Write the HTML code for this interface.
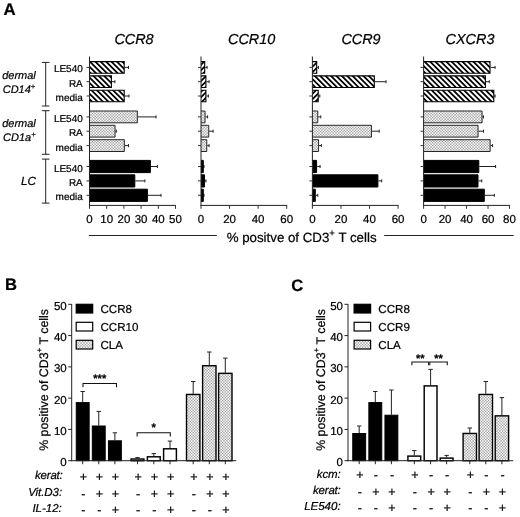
<!DOCTYPE html>
<html><head><meta charset="utf-8"><title>Figure</title>
<style>html,body{margin:0;padding:0;background:#fff;overflow:hidden;}svg{display:block;}</style>
</head><body>
<svg width="520" height="517" viewBox="0 0 520 517" font-family='"Liberation Sans", sans-serif' fill="#000" text-rendering="geometricPrecision"><style>text{stroke:#000;stroke-width:0.22px;}</style>
<defs>
<pattern id="hat" width="27.0" height="27.0" patternUnits="userSpaceOnUse">
<rect width="27.0" height="27.0" fill="#fff"/><path d="M-27.00,0h2.5l27.00,27.00h-2.5zM-21.60,0h2.5l27.00,27.00h-2.5zM-16.20,0h2.5l27.00,27.00h-2.5zM-10.80,0h2.5l27.00,27.00h-2.5zM-5.40,0h2.5l27.00,27.00h-2.5zM0.00,0h2.5l27.00,27.00h-2.5zM5.40,0h2.5l27.00,27.00h-2.5zM10.80,0h2.5l27.00,27.00h-2.5zM16.20,0h2.5l27.00,27.00h-2.5zM21.60,0h2.5l27.00,27.00h-2.5zM27.00,0h2.5l27.00,27.00h-2.5z" fill="#000"/></pattern>
<pattern id="hat2" width="27.0" height="27.0" patternUnits="userSpaceOnUse">
<rect width="27.0" height="27.0" fill="#fff"/><path d="M-27.00,27.00h2.5l27.00,-27.00h-2.5zM-21.60,27.00h2.5l27.00,-27.00h-2.5zM-16.20,27.00h2.5l27.00,-27.00h-2.5zM-10.80,27.00h2.5l27.00,-27.00h-2.5zM-5.40,27.00h2.5l27.00,-27.00h-2.5zM0.00,27.00h2.5l27.00,-27.00h-2.5zM5.40,27.00h2.5l27.00,-27.00h-2.5zM10.80,27.00h2.5l27.00,-27.00h-2.5zM16.20,27.00h2.5l27.00,-27.00h-2.5zM21.60,27.00h2.5l27.00,-27.00h-2.5zM27.00,27.00h2.5l27.00,-27.00h-2.5z" fill="#000"/></pattern>
<pattern id="dot" width="14.0" height="14.0" patternUnits="userSpaceOnUse">
<rect width="14.0" height="14.0" fill="#909090"/><g fill="#fff"><circle cx="0.00" cy="0.00" r="0.9"/><circle cx="0.00" cy="2.80" r="0.9"/><circle cx="0.00" cy="5.60" r="0.9"/><circle cx="0.00" cy="8.40" r="0.9"/><circle cx="0.00" cy="11.20" r="0.9"/><circle cx="0.00" cy="14.00" r="0.9"/><circle cx="2.80" cy="0.00" r="0.9"/><circle cx="2.80" cy="2.80" r="0.9"/><circle cx="2.80" cy="5.60" r="0.9"/><circle cx="2.80" cy="8.40" r="0.9"/><circle cx="2.80" cy="11.20" r="0.9"/><circle cx="2.80" cy="14.00" r="0.9"/><circle cx="5.60" cy="0.00" r="0.9"/><circle cx="5.60" cy="2.80" r="0.9"/><circle cx="5.60" cy="5.60" r="0.9"/><circle cx="5.60" cy="8.40" r="0.9"/><circle cx="5.60" cy="11.20" r="0.9"/><circle cx="5.60" cy="14.00" r="0.9"/><circle cx="8.40" cy="0.00" r="0.9"/><circle cx="8.40" cy="2.80" r="0.9"/><circle cx="8.40" cy="5.60" r="0.9"/><circle cx="8.40" cy="8.40" r="0.9"/><circle cx="8.40" cy="11.20" r="0.9"/><circle cx="8.40" cy="14.00" r="0.9"/><circle cx="11.20" cy="0.00" r="0.9"/><circle cx="11.20" cy="2.80" r="0.9"/><circle cx="11.20" cy="5.60" r="0.9"/><circle cx="11.20" cy="8.40" r="0.9"/><circle cx="11.20" cy="11.20" r="0.9"/><circle cx="11.20" cy="14.00" r="0.9"/><circle cx="14.00" cy="0.00" r="0.9"/><circle cx="14.00" cy="2.80" r="0.9"/><circle cx="14.00" cy="5.60" r="0.9"/><circle cx="14.00" cy="8.40" r="0.9"/><circle cx="14.00" cy="11.20" r="0.9"/><circle cx="14.00" cy="14.00" r="0.9"/><circle cx="1.40" cy="1.40" r="0.9"/><circle cx="1.40" cy="4.20" r="0.9"/><circle cx="1.40" cy="7.00" r="0.9"/><circle cx="1.40" cy="9.80" r="0.9"/><circle cx="1.40" cy="12.60" r="0.9"/><circle cx="4.20" cy="1.40" r="0.9"/><circle cx="4.20" cy="4.20" r="0.9"/><circle cx="4.20" cy="7.00" r="0.9"/><circle cx="4.20" cy="9.80" r="0.9"/><circle cx="4.20" cy="12.60" r="0.9"/><circle cx="7.00" cy="1.40" r="0.9"/><circle cx="7.00" cy="4.20" r="0.9"/><circle cx="7.00" cy="7.00" r="0.9"/><circle cx="7.00" cy="9.80" r="0.9"/><circle cx="7.00" cy="12.60" r="0.9"/><circle cx="9.80" cy="1.40" r="0.9"/><circle cx="9.80" cy="4.20" r="0.9"/><circle cx="9.80" cy="7.00" r="0.9"/><circle cx="9.80" cy="9.80" r="0.9"/><circle cx="9.80" cy="12.60" r="0.9"/><circle cx="12.60" cy="1.40" r="0.9"/><circle cx="12.60" cy="4.20" r="0.9"/><circle cx="12.60" cy="7.00" r="0.9"/><circle cx="12.60" cy="9.80" r="0.9"/><circle cx="12.60" cy="12.60" r="0.9"/></g></pattern>
</defs>
<rect width="520" height="517" fill="#fff"/>
<text x="3.50" y="14.60" font-size="16.8" text-anchor="start" font-weight="bold">A</text>
<text x="134.00" y="43.60" font-size="14.4" text-anchor="middle" font-style="italic">CCR8</text>
<line x1="124.80" y1="67.40" x2="128.50" y2="67.40" stroke="#222" stroke-width="1"/>
<line x1="128.50" y1="65.90" x2="128.50" y2="68.90" stroke="#222" stroke-width="1"/>
<rect x="89.50" y="61.60" width="34.70" height="11.60" fill="url(#hat)"/>
<path d="M89.50,61.60H124.20V73.20H89.50" fill="none" stroke="#000" stroke-width="1.1"/>
<line x1="112.00" y1="81.70" x2="114.90" y2="81.70" stroke="#222" stroke-width="1"/>
<line x1="114.90" y1="80.20" x2="114.90" y2="83.20" stroke="#222" stroke-width="1"/>
<rect x="89.50" y="75.90" width="21.90" height="11.60" fill="url(#hat)"/>
<path d="M89.50,75.90H111.40V87.50H89.50" fill="none" stroke="#000" stroke-width="1.1"/>
<line x1="124.80" y1="96.00" x2="129.00" y2="96.00" stroke="#222" stroke-width="1"/>
<line x1="129.00" y1="94.50" x2="129.00" y2="97.50" stroke="#222" stroke-width="1"/>
<rect x="89.50" y="90.20" width="34.70" height="11.60" fill="url(#hat)"/>
<path d="M89.50,90.20H124.20V101.80H89.50" fill="none" stroke="#000" stroke-width="1.1"/>
<line x1="137.80" y1="116.90" x2="156.00" y2="116.90" stroke="#222" stroke-width="1"/>
<line x1="156.00" y1="115.40" x2="156.00" y2="118.40" stroke="#222" stroke-width="1"/>
<rect x="89.50" y="111.00" width="47.85" height="11.80" fill="url(#dot)"/>
<path d="M89.50,111.00H137.35V122.80H89.50" fill="none" stroke="#111" stroke-width="0.9"/>
<line x1="115.50" y1="131.20" x2="116.30" y2="131.20" stroke="#222" stroke-width="1"/>
<line x1="116.30" y1="129.70" x2="116.30" y2="132.70" stroke="#222" stroke-width="1"/>
<rect x="89.50" y="125.30" width="25.55" height="11.80" fill="url(#dot)"/>
<path d="M89.50,125.30H115.05V137.10H89.50" fill="none" stroke="#111" stroke-width="0.9"/>
<line x1="124.80" y1="145.60" x2="128.50" y2="145.60" stroke="#222" stroke-width="1"/>
<line x1="128.50" y1="144.10" x2="128.50" y2="147.10" stroke="#222" stroke-width="1"/>
<rect x="89.50" y="139.70" width="34.85" height="11.80" fill="url(#dot)"/>
<path d="M89.50,139.70H124.35V151.50H89.50" fill="none" stroke="#111" stroke-width="0.9"/>
<line x1="150.90" y1="166.50" x2="157.40" y2="166.50" stroke="#222" stroke-width="1"/>
<line x1="157.40" y1="165.00" x2="157.40" y2="168.00" stroke="#222" stroke-width="1"/>
<rect x="89.50" y="160.40" width="60.90" height="12.20" fill="#000"/>
<path d="M89.50,160.40H150.40V172.60H89.50" fill="none" stroke="#000" stroke-width="1"/>
<line x1="135.30" y1="180.90" x2="144.90" y2="180.90" stroke="#222" stroke-width="1"/>
<line x1="144.90" y1="179.40" x2="144.90" y2="182.40" stroke="#222" stroke-width="1"/>
<rect x="89.50" y="174.80" width="45.30" height="12.20" fill="#000"/>
<path d="M89.50,174.80H134.80V187.00H89.50" fill="none" stroke="#000" stroke-width="1"/>
<line x1="147.90" y1="195.30" x2="161.00" y2="195.30" stroke="#222" stroke-width="1"/>
<line x1="161.00" y1="193.80" x2="161.00" y2="196.80" stroke="#222" stroke-width="1"/>
<rect x="89.50" y="189.20" width="57.90" height="12.20" fill="#000"/>
<path d="M89.50,189.20H147.40V201.40H89.50" fill="none" stroke="#000" stroke-width="1"/>
<line x1="89.50" y1="56.50" x2="89.50" y2="205.90" stroke="#222" stroke-width="1"/>
<line x1="89.00" y1="205.40" x2="176.00" y2="205.40" stroke="#222" stroke-width="1"/>
<line x1="86.50" y1="67.40" x2="89.50" y2="67.40" stroke="#333" stroke-width="1"/>
<line x1="86.50" y1="81.70" x2="89.50" y2="81.70" stroke="#333" stroke-width="1"/>
<line x1="86.50" y1="96.00" x2="89.50" y2="96.00" stroke="#333" stroke-width="1"/>
<line x1="86.50" y1="116.90" x2="89.50" y2="116.90" stroke="#333" stroke-width="1"/>
<line x1="86.50" y1="131.20" x2="89.50" y2="131.20" stroke="#333" stroke-width="1"/>
<line x1="86.50" y1="145.60" x2="89.50" y2="145.60" stroke="#333" stroke-width="1"/>
<line x1="86.50" y1="166.50" x2="89.50" y2="166.50" stroke="#333" stroke-width="1"/>
<line x1="86.50" y1="180.90" x2="89.50" y2="180.90" stroke="#333" stroke-width="1"/>
<line x1="86.50" y1="195.30" x2="89.50" y2="195.30" stroke="#333" stroke-width="1"/>
<line x1="89.50" y1="205.40" x2="89.50" y2="208.80" stroke="#333" stroke-width="1"/>
<text x="89.50" y="222.60" font-size="11.5" text-anchor="middle">0</text>
<line x1="106.70" y1="205.40" x2="106.70" y2="208.80" stroke="#333" stroke-width="1"/>
<text x="106.70" y="222.60" font-size="11.5" text-anchor="middle">10</text>
<line x1="123.90" y1="205.40" x2="123.90" y2="208.80" stroke="#333" stroke-width="1"/>
<text x="123.90" y="222.60" font-size="11.5" text-anchor="middle">20</text>
<line x1="141.10" y1="205.40" x2="141.10" y2="208.80" stroke="#333" stroke-width="1"/>
<text x="141.10" y="222.60" font-size="11.5" text-anchor="middle">30</text>
<line x1="158.30" y1="205.40" x2="158.30" y2="208.80" stroke="#333" stroke-width="1"/>
<text x="158.30" y="222.60" font-size="11.5" text-anchor="middle">40</text>
<line x1="175.50" y1="205.40" x2="175.50" y2="208.80" stroke="#333" stroke-width="1"/>
<text x="175.50" y="222.60" font-size="11.5" text-anchor="middle">50</text>
<text x="251.60" y="43.60" font-size="14.4" text-anchor="middle" font-style="italic">CCR10</text>
<line x1="205.30" y1="67.40" x2="207.10" y2="67.40" stroke="#222" stroke-width="1"/>
<line x1="207.10" y1="65.90" x2="207.10" y2="68.90" stroke="#222" stroke-width="1"/>
<rect x="201.00" y="61.60" width="3.70" height="11.60" fill="url(#hat2)"/>
<path d="M201.00,61.60H204.70V73.20H201.00" fill="none" stroke="#000" stroke-width="1.1"/>
<line x1="206.50" y1="81.70" x2="209.10" y2="81.70" stroke="#222" stroke-width="1"/>
<line x1="209.10" y1="80.20" x2="209.10" y2="83.20" stroke="#222" stroke-width="1"/>
<rect x="201.00" y="75.90" width="4.90" height="11.60" fill="url(#hat2)"/>
<path d="M201.00,75.90H205.90V87.50H201.00" fill="none" stroke="#000" stroke-width="1.1"/>
<line x1="206.50" y1="96.00" x2="208.40" y2="96.00" stroke="#222" stroke-width="1"/>
<line x1="208.40" y1="94.50" x2="208.40" y2="97.50" stroke="#222" stroke-width="1"/>
<rect x="201.00" y="90.20" width="4.90" height="11.60" fill="url(#hat2)"/>
<path d="M201.00,90.20H205.90V101.80H201.00" fill="none" stroke="#000" stroke-width="1.1"/>
<line x1="205.50" y1="116.90" x2="207.60" y2="116.90" stroke="#222" stroke-width="1"/>
<line x1="207.60" y1="115.40" x2="207.60" y2="118.40" stroke="#222" stroke-width="1"/>
<rect x="201.00" y="111.00" width="4.05" height="11.80" fill="url(#dot)"/>
<path d="M201.00,111.00H205.05V122.80H201.00" fill="none" stroke="#111" stroke-width="0.9"/>
<line x1="209.20" y1="131.20" x2="213.10" y2="131.20" stroke="#222" stroke-width="1"/>
<line x1="213.10" y1="129.70" x2="213.10" y2="132.70" stroke="#222" stroke-width="1"/>
<rect x="201.00" y="125.30" width="7.75" height="11.80" fill="url(#dot)"/>
<path d="M201.00,125.30H208.75V137.10H201.00" fill="none" stroke="#111" stroke-width="0.9"/>
<line x1="207.20" y1="145.60" x2="209.10" y2="145.60" stroke="#222" stroke-width="1"/>
<line x1="209.10" y1="144.10" x2="209.10" y2="147.10" stroke="#222" stroke-width="1"/>
<rect x="201.00" y="139.70" width="5.75" height="11.80" fill="url(#dot)"/>
<path d="M201.00,139.70H206.75V151.50H201.00" fill="none" stroke="#111" stroke-width="0.9"/>
<line x1="203.80" y1="166.50" x2="204.00" y2="166.50" stroke="#222" stroke-width="1"/>
<line x1="204.00" y1="165.00" x2="204.00" y2="168.00" stroke="#222" stroke-width="1"/>
<rect x="201.00" y="160.40" width="2.30" height="12.20" fill="#000"/>
<path d="M201.00,160.40H203.30V172.60H201.00" fill="none" stroke="#000" stroke-width="1"/>
<line x1="205.00" y1="180.90" x2="206.00" y2="180.90" stroke="#222" stroke-width="1"/>
<line x1="206.00" y1="179.40" x2="206.00" y2="182.40" stroke="#222" stroke-width="1"/>
<rect x="201.00" y="174.80" width="3.50" height="12.20" fill="#000"/>
<path d="M201.00,174.80H204.50V187.00H201.00" fill="none" stroke="#000" stroke-width="1"/>
<line x1="203.80" y1="195.30" x2="204.00" y2="195.30" stroke="#222" stroke-width="1"/>
<line x1="204.00" y1="193.80" x2="204.00" y2="196.80" stroke="#222" stroke-width="1"/>
<rect x="201.00" y="189.20" width="2.30" height="12.20" fill="#000"/>
<path d="M201.00,189.20H203.30V201.40H201.00" fill="none" stroke="#000" stroke-width="1"/>
<line x1="201.00" y1="56.50" x2="201.00" y2="205.90" stroke="#222" stroke-width="1"/>
<line x1="200.50" y1="205.40" x2="287.18" y2="205.40" stroke="#222" stroke-width="1"/>
<line x1="198.00" y1="67.40" x2="201.00" y2="67.40" stroke="#333" stroke-width="1"/>
<line x1="198.00" y1="81.70" x2="201.00" y2="81.70" stroke="#333" stroke-width="1"/>
<line x1="198.00" y1="96.00" x2="201.00" y2="96.00" stroke="#333" stroke-width="1"/>
<line x1="198.00" y1="116.90" x2="201.00" y2="116.90" stroke="#333" stroke-width="1"/>
<line x1="198.00" y1="131.20" x2="201.00" y2="131.20" stroke="#333" stroke-width="1"/>
<line x1="198.00" y1="145.60" x2="201.00" y2="145.60" stroke="#333" stroke-width="1"/>
<line x1="198.00" y1="166.50" x2="201.00" y2="166.50" stroke="#333" stroke-width="1"/>
<line x1="198.00" y1="180.90" x2="201.00" y2="180.90" stroke="#333" stroke-width="1"/>
<line x1="198.00" y1="195.30" x2="201.00" y2="195.30" stroke="#333" stroke-width="1"/>
<line x1="201.00" y1="205.40" x2="201.00" y2="208.80" stroke="#333" stroke-width="1"/>
<text x="201.00" y="222.60" font-size="11.5" text-anchor="middle">0</text>
<line x1="229.56" y1="205.40" x2="229.56" y2="208.80" stroke="#333" stroke-width="1"/>
<text x="229.56" y="222.60" font-size="11.5" text-anchor="middle">20</text>
<line x1="258.12" y1="205.40" x2="258.12" y2="208.80" stroke="#333" stroke-width="1"/>
<text x="258.12" y="222.60" font-size="11.5" text-anchor="middle">40</text>
<line x1="286.68" y1="205.40" x2="286.68" y2="208.80" stroke="#333" stroke-width="1"/>
<text x="286.68" y="222.60" font-size="11.5" text-anchor="middle">60</text>
<text x="361.00" y="43.60" font-size="14.4" text-anchor="middle" font-style="italic">CCR9</text>
<line x1="317.30" y1="67.40" x2="318.40" y2="67.40" stroke="#222" stroke-width="1"/>
<line x1="318.40" y1="65.90" x2="318.40" y2="68.90" stroke="#222" stroke-width="1"/>
<rect x="312.40" y="61.60" width="4.30" height="11.60" fill="url(#hat2)"/>
<path d="M312.40,61.60H316.70V73.20H312.40" fill="none" stroke="#000" stroke-width="1.1"/>
<line x1="374.90" y1="81.70" x2="386.00" y2="81.70" stroke="#222" stroke-width="1"/>
<line x1="386.00" y1="80.20" x2="386.00" y2="83.20" stroke="#222" stroke-width="1"/>
<rect x="312.40" y="75.90" width="61.90" height="11.60" fill="url(#hat)"/>
<path d="M312.40,75.90H374.30V87.50H312.40" fill="none" stroke="#000" stroke-width="1.1"/>
<line x1="318.80" y1="96.00" x2="319.80" y2="96.00" stroke="#222" stroke-width="1"/>
<line x1="319.80" y1="94.50" x2="319.80" y2="97.50" stroke="#222" stroke-width="1"/>
<rect x="312.40" y="90.20" width="5.80" height="11.60" fill="url(#hat2)"/>
<path d="M312.40,90.20H318.20V101.80H312.40" fill="none" stroke="#000" stroke-width="1.1"/>
<line x1="318.20" y1="116.90" x2="320.80" y2="116.90" stroke="#222" stroke-width="1"/>
<line x1="320.80" y1="115.40" x2="320.80" y2="118.40" stroke="#222" stroke-width="1"/>
<rect x="312.40" y="111.00" width="5.35" height="11.80" fill="url(#dot)"/>
<path d="M312.40,111.00H317.75V122.80H312.40" fill="none" stroke="#111" stroke-width="0.9"/>
<line x1="371.90" y1="131.20" x2="379.20" y2="131.20" stroke="#222" stroke-width="1"/>
<line x1="379.20" y1="129.70" x2="379.20" y2="132.70" stroke="#222" stroke-width="1"/>
<rect x="312.40" y="125.30" width="59.05" height="11.80" fill="url(#dot)"/>
<path d="M312.40,125.30H371.45V137.10H312.40" fill="none" stroke="#111" stroke-width="0.9"/>
<line x1="319.00" y1="145.60" x2="321.40" y2="145.60" stroke="#222" stroke-width="1"/>
<line x1="321.40" y1="144.10" x2="321.40" y2="147.10" stroke="#222" stroke-width="1"/>
<rect x="312.40" y="139.70" width="6.15" height="11.80" fill="url(#dot)"/>
<path d="M312.40,139.70H318.55V151.50H312.40" fill="none" stroke="#111" stroke-width="0.9"/>
<line x1="317.10" y1="166.50" x2="320.10" y2="166.50" stroke="#222" stroke-width="1"/>
<line x1="320.10" y1="165.00" x2="320.10" y2="168.00" stroke="#222" stroke-width="1"/>
<rect x="312.40" y="160.40" width="4.20" height="12.20" fill="#000"/>
<path d="M312.40,160.40H316.60V172.60H312.40" fill="none" stroke="#000" stroke-width="1"/>
<line x1="378.40" y1="180.90" x2="381.70" y2="180.90" stroke="#222" stroke-width="1"/>
<line x1="381.70" y1="179.40" x2="381.70" y2="182.40" stroke="#222" stroke-width="1"/>
<rect x="312.40" y="174.80" width="65.50" height="12.20" fill="#000"/>
<path d="M312.40,174.80H377.90V187.00H312.40" fill="none" stroke="#000" stroke-width="1"/>
<line x1="315.80" y1="195.30" x2="317.80" y2="195.30" stroke="#222" stroke-width="1"/>
<line x1="317.80" y1="193.80" x2="317.80" y2="196.80" stroke="#222" stroke-width="1"/>
<rect x="312.40" y="189.20" width="2.90" height="12.20" fill="#000"/>
<path d="M312.40,189.20H315.30V201.40H312.40" fill="none" stroke="#000" stroke-width="1"/>
<line x1="312.40" y1="56.50" x2="312.40" y2="205.90" stroke="#222" stroke-width="1"/>
<line x1="311.90" y1="205.40" x2="398.58" y2="205.40" stroke="#222" stroke-width="1"/>
<line x1="309.40" y1="67.40" x2="312.40" y2="67.40" stroke="#333" stroke-width="1"/>
<line x1="309.40" y1="81.70" x2="312.40" y2="81.70" stroke="#333" stroke-width="1"/>
<line x1="309.40" y1="96.00" x2="312.40" y2="96.00" stroke="#333" stroke-width="1"/>
<line x1="309.40" y1="116.90" x2="312.40" y2="116.90" stroke="#333" stroke-width="1"/>
<line x1="309.40" y1="131.20" x2="312.40" y2="131.20" stroke="#333" stroke-width="1"/>
<line x1="309.40" y1="145.60" x2="312.40" y2="145.60" stroke="#333" stroke-width="1"/>
<line x1="309.40" y1="166.50" x2="312.40" y2="166.50" stroke="#333" stroke-width="1"/>
<line x1="309.40" y1="180.90" x2="312.40" y2="180.90" stroke="#333" stroke-width="1"/>
<line x1="309.40" y1="195.30" x2="312.40" y2="195.30" stroke="#333" stroke-width="1"/>
<line x1="312.40" y1="205.40" x2="312.40" y2="208.80" stroke="#333" stroke-width="1"/>
<text x="312.40" y="222.60" font-size="11.5" text-anchor="middle">0</text>
<line x1="340.96" y1="205.40" x2="340.96" y2="208.80" stroke="#333" stroke-width="1"/>
<text x="340.96" y="222.60" font-size="11.5" text-anchor="middle">20</text>
<line x1="369.52" y1="205.40" x2="369.52" y2="208.80" stroke="#333" stroke-width="1"/>
<text x="369.52" y="222.60" font-size="11.5" text-anchor="middle">40</text>
<line x1="398.08" y1="205.40" x2="398.08" y2="208.80" stroke="#333" stroke-width="1"/>
<text x="398.08" y="222.60" font-size="11.5" text-anchor="middle">60</text>
<text x="470.00" y="43.60" font-size="14.4" text-anchor="middle" font-style="italic">CXCR3</text>
<line x1="490.60" y1="67.40" x2="495.10" y2="67.40" stroke="#222" stroke-width="1"/>
<line x1="495.10" y1="65.90" x2="495.10" y2="68.90" stroke="#222" stroke-width="1"/>
<rect x="423.60" y="61.60" width="66.40" height="11.60" fill="url(#hat)"/>
<path d="M423.60,61.60H490.00V73.20H423.60" fill="none" stroke="#000" stroke-width="1.1"/>
<line x1="486.00" y1="81.70" x2="489.30" y2="81.70" stroke="#222" stroke-width="1"/>
<line x1="489.30" y1="80.20" x2="489.30" y2="83.20" stroke="#222" stroke-width="1"/>
<rect x="423.60" y="75.90" width="61.80" height="11.60" fill="url(#hat)"/>
<path d="M423.60,75.90H485.40V87.50H423.60" fill="none" stroke="#000" stroke-width="1.1"/>
<line x1="494.40" y1="96.00" x2="495.10" y2="96.00" stroke="#222" stroke-width="1"/>
<line x1="495.10" y1="94.50" x2="495.10" y2="97.50" stroke="#222" stroke-width="1"/>
<rect x="423.60" y="90.20" width="70.20" height="11.60" fill="url(#hat)"/>
<path d="M423.60,90.20H493.80V101.80H423.60" fill="none" stroke="#000" stroke-width="1.1"/>
<line x1="482.50" y1="116.90" x2="483.50" y2="116.90" stroke="#222" stroke-width="1"/>
<line x1="483.50" y1="115.40" x2="483.50" y2="118.40" stroke="#222" stroke-width="1"/>
<rect x="423.60" y="111.00" width="58.45" height="11.80" fill="url(#dot)"/>
<path d="M423.60,111.00H482.05V122.80H423.60" fill="none" stroke="#111" stroke-width="0.9"/>
<line x1="478.50" y1="131.20" x2="483.50" y2="131.20" stroke="#222" stroke-width="1"/>
<line x1="483.50" y1="129.70" x2="483.50" y2="132.70" stroke="#222" stroke-width="1"/>
<rect x="423.60" y="125.30" width="54.45" height="11.80" fill="url(#dot)"/>
<path d="M423.60,125.30H478.05V137.10H423.60" fill="none" stroke="#111" stroke-width="0.9"/>
<line x1="490.60" y1="145.60" x2="492.60" y2="145.60" stroke="#222" stroke-width="1"/>
<line x1="492.60" y1="144.10" x2="492.60" y2="147.10" stroke="#222" stroke-width="1"/>
<rect x="423.60" y="139.70" width="66.55" height="11.80" fill="url(#dot)"/>
<path d="M423.60,139.70H490.15V151.50H423.60" fill="none" stroke="#111" stroke-width="0.9"/>
<line x1="479.30" y1="166.50" x2="495.60" y2="166.50" stroke="#222" stroke-width="1"/>
<line x1="495.60" y1="165.00" x2="495.60" y2="168.00" stroke="#222" stroke-width="1"/>
<rect x="423.60" y="160.40" width="55.20" height="12.20" fill="#000"/>
<path d="M423.60,160.40H478.80V172.60H423.60" fill="none" stroke="#000" stroke-width="1"/>
<line x1="478.50" y1="180.90" x2="481.80" y2="180.90" stroke="#222" stroke-width="1"/>
<line x1="481.80" y1="179.40" x2="481.80" y2="182.40" stroke="#222" stroke-width="1"/>
<rect x="423.60" y="174.80" width="54.40" height="12.20" fill="#000"/>
<path d="M423.60,174.80H478.00V187.00H423.60" fill="none" stroke="#000" stroke-width="1"/>
<line x1="484.80" y1="195.30" x2="494.40" y2="195.30" stroke="#222" stroke-width="1"/>
<line x1="494.40" y1="193.80" x2="494.40" y2="196.80" stroke="#222" stroke-width="1"/>
<rect x="423.60" y="189.20" width="60.70" height="12.20" fill="#000"/>
<path d="M423.60,189.20H484.30V201.40H423.60" fill="none" stroke="#000" stroke-width="1"/>
<line x1="423.60" y1="56.50" x2="423.60" y2="205.90" stroke="#222" stroke-width="1"/>
<line x1="423.10" y1="205.40" x2="510.02" y2="205.40" stroke="#222" stroke-width="1"/>
<line x1="420.60" y1="67.40" x2="423.60" y2="67.40" stroke="#333" stroke-width="1"/>
<line x1="420.60" y1="81.70" x2="423.60" y2="81.70" stroke="#333" stroke-width="1"/>
<line x1="420.60" y1="96.00" x2="423.60" y2="96.00" stroke="#333" stroke-width="1"/>
<line x1="420.60" y1="116.90" x2="423.60" y2="116.90" stroke="#333" stroke-width="1"/>
<line x1="420.60" y1="131.20" x2="423.60" y2="131.20" stroke="#333" stroke-width="1"/>
<line x1="420.60" y1="145.60" x2="423.60" y2="145.60" stroke="#333" stroke-width="1"/>
<line x1="420.60" y1="166.50" x2="423.60" y2="166.50" stroke="#333" stroke-width="1"/>
<line x1="420.60" y1="180.90" x2="423.60" y2="180.90" stroke="#333" stroke-width="1"/>
<line x1="420.60" y1="195.30" x2="423.60" y2="195.30" stroke="#333" stroke-width="1"/>
<line x1="423.60" y1="205.40" x2="423.60" y2="208.80" stroke="#333" stroke-width="1"/>
<text x="423.60" y="222.60" font-size="11.5" text-anchor="middle">0</text>
<line x1="445.08" y1="205.40" x2="445.08" y2="208.80" stroke="#333" stroke-width="1"/>
<text x="445.08" y="222.60" font-size="11.5" text-anchor="middle">20</text>
<line x1="466.56" y1="205.40" x2="466.56" y2="208.80" stroke="#333" stroke-width="1"/>
<text x="466.56" y="222.60" font-size="11.5" text-anchor="middle">40</text>
<line x1="488.04" y1="205.40" x2="488.04" y2="208.80" stroke="#333" stroke-width="1"/>
<text x="488.04" y="222.60" font-size="11.5" text-anchor="middle">60</text>
<line x1="509.52" y1="205.40" x2="509.52" y2="208.80" stroke="#333" stroke-width="1"/>
<text x="509.52" y="222.60" font-size="11.5" text-anchor="middle">80</text>
<text x="82.80" y="72.40" font-size="10" text-anchor="end">LE540</text>
<text x="82.80" y="86.70" font-size="10" text-anchor="end">RA</text>
<text x="82.80" y="101.00" font-size="10" text-anchor="end">media</text>
<text x="82.80" y="121.90" font-size="10" text-anchor="end">LE540</text>
<text x="82.80" y="136.20" font-size="10" text-anchor="end">RA</text>
<text x="82.80" y="150.60" font-size="10" text-anchor="end">media</text>
<text x="82.80" y="171.50" font-size="10" text-anchor="end">LE540</text>
<text x="82.80" y="185.90" font-size="10" text-anchor="end">RA</text>
<text x="82.80" y="200.30" font-size="10" text-anchor="end">media</text>
<text x="19.00" y="78.80" font-size="11" text-anchor="middle" font-style="italic">dermal</text>
<text x="19.00" y="92.60" font-size="11" text-anchor="middle" font-style="italic">CD14<tspan font-size="7.5" dy="-3.6">+</tspan></text>
<text x="19.00" y="127.10" font-size="11" text-anchor="middle" font-style="italic">dermal</text>
<text x="19.30" y="140.90" font-size="11" text-anchor="middle" font-style="italic">CD1a<tspan font-size="7.5" dy="-3.6">+</tspan></text>
<text x="28.60" y="184.80" font-size="11.7" text-anchor="middle" font-style="italic">LC</text>
<line x1="45.70" y1="62.40" x2="45.70" y2="106.00" stroke="#222" stroke-width="1"/>
<line x1="41.90" y1="62.40" x2="49.50" y2="62.40" stroke="#222" stroke-width="1"/>
<line x1="41.90" y1="106.00" x2="49.50" y2="106.00" stroke="#222" stroke-width="1"/>
<line x1="45.70" y1="110.70" x2="45.70" y2="154.30" stroke="#222" stroke-width="1"/>
<line x1="41.90" y1="110.70" x2="49.50" y2="110.70" stroke="#222" stroke-width="1"/>
<line x1="41.90" y1="154.30" x2="49.50" y2="154.30" stroke="#222" stroke-width="1"/>
<line x1="45.70" y1="159.10" x2="45.70" y2="203.10" stroke="#222" stroke-width="1"/>
<line x1="41.90" y1="159.10" x2="49.50" y2="159.10" stroke="#222" stroke-width="1"/>
<line x1="41.90" y1="203.10" x2="49.50" y2="203.10" stroke="#222" stroke-width="1"/>
<line x1="88.80" y1="235.50" x2="216.90" y2="235.50" stroke="#222" stroke-width="1"/>
<line x1="384.20" y1="235.50" x2="513.70" y2="235.50" stroke="#222" stroke-width="1"/>
<text x="301.60" y="242.20" font-size="13.3" text-anchor="middle">% positve of CD3<tspan font-size="9.5" dy="-6.6">+</tspan><tspan dy="6.6"> T cells</tspan></text>
<text x="5.00" y="290.20" font-size="16.6" text-anchor="start" font-weight="bold">B</text>
<line x1="82.70" y1="402.10" x2="82.70" y2="391.50" stroke="#222" stroke-width="1"/>
<line x1="80.50" y1="391.50" x2="84.90" y2="391.50" stroke="#222" stroke-width="1"/>
<rect x="76.25" y="402.60" width="12.90" height="58.10" fill="#000" stroke="#000" stroke-width="1"/>
<line x1="98.75" y1="425.50" x2="98.75" y2="411.40" stroke="#222" stroke-width="1"/>
<line x1="96.55" y1="411.40" x2="100.95" y2="411.40" stroke="#222" stroke-width="1"/>
<rect x="92.30" y="426.00" width="12.90" height="34.70" fill="#000" stroke="#000" stroke-width="1"/>
<line x1="114.90" y1="440.30" x2="114.90" y2="432.80" stroke="#222" stroke-width="1"/>
<line x1="112.70" y1="432.80" x2="117.10" y2="432.80" stroke="#222" stroke-width="1"/>
<rect x="108.45" y="440.80" width="12.90" height="19.90" fill="#000" stroke="#000" stroke-width="1"/>
<line x1="137.50" y1="458.30" x2="137.50" y2="457.60" stroke="#222" stroke-width="1"/>
<line x1="135.30" y1="457.60" x2="139.70" y2="457.60" stroke="#222" stroke-width="1"/>
<rect x="131.10" y="459.00" width="12.80" height="1.70" fill="#fff" stroke="#000" stroke-width="1.45"/>
<line x1="153.80" y1="456.10" x2="153.80" y2="453.60" stroke="#222" stroke-width="1"/>
<line x1="151.60" y1="453.60" x2="156.00" y2="453.60" stroke="#222" stroke-width="1"/>
<rect x="147.40" y="456.80" width="12.80" height="3.90" fill="#fff" stroke="#000" stroke-width="1.45"/>
<line x1="170.00" y1="448.10" x2="170.00" y2="441.10" stroke="#222" stroke-width="1"/>
<line x1="167.80" y1="441.10" x2="172.20" y2="441.10" stroke="#222" stroke-width="1"/>
<rect x="163.60" y="448.80" width="12.80" height="11.90" fill="#fff" stroke="#000" stroke-width="1.45"/>
<line x1="193.20" y1="393.80" x2="193.20" y2="381.50" stroke="#222" stroke-width="1"/>
<line x1="191.00" y1="381.50" x2="195.40" y2="381.50" stroke="#222" stroke-width="1"/>
<rect x="186.50" y="394.45" width="13.40" height="66.25" fill="url(#dot)" stroke="#000" stroke-width="1.4"/>
<line x1="209.30" y1="365.10" x2="209.30" y2="352.00" stroke="#222" stroke-width="1"/>
<line x1="207.10" y1="352.00" x2="211.50" y2="352.00" stroke="#222" stroke-width="1"/>
<rect x="202.60" y="365.75" width="13.40" height="94.95" fill="url(#dot)" stroke="#000" stroke-width="1.4"/>
<line x1="225.30" y1="372.70" x2="225.30" y2="358.10" stroke="#222" stroke-width="1"/>
<line x1="223.10" y1="358.10" x2="227.50" y2="358.10" stroke="#222" stroke-width="1"/>
<rect x="218.60" y="373.35" width="13.40" height="87.35" fill="url(#dot)" stroke="#000" stroke-width="1.4"/>
<line x1="71.70" y1="304.00" x2="71.70" y2="461.20" stroke="#222" stroke-width="1"/>
<line x1="71.20" y1="460.70" x2="236.20" y2="460.70" stroke="#222" stroke-width="1"/>
<line x1="68.20" y1="460.70" x2="71.70" y2="460.70" stroke="#222" stroke-width="1"/>
<text x="66.70" y="466.30" font-size="11.5" text-anchor="end">0</text>
<line x1="68.20" y1="429.42" x2="71.70" y2="429.42" stroke="#222" stroke-width="1"/>
<text x="66.70" y="435.02" font-size="11.5" text-anchor="end">10</text>
<line x1="68.20" y1="398.14" x2="71.70" y2="398.14" stroke="#222" stroke-width="1"/>
<text x="66.70" y="403.74" font-size="11.5" text-anchor="end">20</text>
<line x1="68.20" y1="366.86" x2="71.70" y2="366.86" stroke="#222" stroke-width="1"/>
<text x="66.70" y="372.46" font-size="11.5" text-anchor="end">30</text>
<line x1="68.20" y1="335.58" x2="71.70" y2="335.58" stroke="#222" stroke-width="1"/>
<text x="66.70" y="341.18" font-size="11.5" text-anchor="end">40</text>
<line x1="68.20" y1="304.30" x2="71.70" y2="304.30" stroke="#222" stroke-width="1"/>
<text x="66.70" y="309.90" font-size="11.5" text-anchor="end">50</text>
<line x1="82.70" y1="460.70" x2="82.70" y2="464.20" stroke="#222" stroke-width="1"/>
<line x1="98.75" y1="460.70" x2="98.75" y2="464.20" stroke="#222" stroke-width="1"/>
<line x1="114.90" y1="460.70" x2="114.90" y2="464.20" stroke="#222" stroke-width="1"/>
<line x1="137.50" y1="460.70" x2="137.50" y2="464.20" stroke="#222" stroke-width="1"/>
<line x1="153.80" y1="460.70" x2="153.80" y2="464.20" stroke="#222" stroke-width="1"/>
<line x1="170.00" y1="460.70" x2="170.00" y2="464.20" stroke="#222" stroke-width="1"/>
<line x1="193.20" y1="460.70" x2="193.20" y2="464.20" stroke="#222" stroke-width="1"/>
<line x1="209.30" y1="460.70" x2="209.30" y2="464.20" stroke="#222" stroke-width="1"/>
<line x1="225.30" y1="460.70" x2="225.30" y2="464.20" stroke="#222" stroke-width="1"/>
<text transform="translate(47.70,379.9) rotate(-90)" font-size="12.4" text-anchor="middle">% positive of CD3<tspan font-size="8" dy="-5.7">+</tspan><tspan dy="5.7"> T cells</tspan></text>
<rect x="76.20" y="304.30" width="16.50" height="8.70" fill="#000" stroke="#000" stroke-width="1.2"/>
<text x="100.40" y="313.40" font-size="11.6" text-anchor="start">CCR8</text>
<rect x="76.20" y="322.30" width="16.50" height="8.70" fill="#fff" stroke="#000" stroke-width="1.2"/>
<text x="100.40" y="331.40" font-size="11.6" text-anchor="start">CCR10</text>
<rect x="76.20" y="340.30" width="16.50" height="8.70" fill="url(#dot)" stroke="#000" stroke-width="1.2"/>
<text x="100.40" y="349.40" font-size="11.6" text-anchor="start">CLA</text>
<text x="62.60" y="479.00" font-size="11.5" text-anchor="end" font-style="italic" letter-spacing="-0.2">kerat:</text>
<text x="83.30" y="481.10" font-size="12.5" text-anchor="middle">+</text>
<text x="99.35" y="481.10" font-size="12.5" text-anchor="middle">+</text>
<text x="115.50" y="481.10" font-size="12.5" text-anchor="middle">+</text>
<text x="138.10" y="481.10" font-size="12.5" text-anchor="middle">+</text>
<text x="154.40" y="481.10" font-size="12.5" text-anchor="middle">+</text>
<text x="170.60" y="481.10" font-size="12.5" text-anchor="middle">+</text>
<text x="193.80" y="481.10" font-size="12.5" text-anchor="middle">+</text>
<text x="209.90" y="481.10" font-size="12.5" text-anchor="middle">+</text>
<text x="225.90" y="481.10" font-size="12.5" text-anchor="middle">+</text>
<text x="62.10" y="495.80" font-size="11.5" text-anchor="end" font-style="italic" letter-spacing="-0.05">Vit.D3:</text>
<text x="83.30" y="497.50" font-size="12.5" text-anchor="middle">-</text>
<text x="99.35" y="497.50" font-size="12.5" text-anchor="middle">+</text>
<text x="115.50" y="497.50" font-size="12.5" text-anchor="middle">+</text>
<text x="138.10" y="497.50" font-size="12.5" text-anchor="middle">-</text>
<text x="154.40" y="497.50" font-size="12.5" text-anchor="middle">+</text>
<text x="170.60" y="497.50" font-size="12.5" text-anchor="middle">+</text>
<text x="193.80" y="497.50" font-size="12.5" text-anchor="middle">-</text>
<text x="209.90" y="497.50" font-size="12.5" text-anchor="middle">+</text>
<text x="225.90" y="497.50" font-size="12.5" text-anchor="middle">+</text>
<text x="61.80" y="511.80" font-size="11.5" text-anchor="end" font-style="italic" letter-spacing="0">IL-12:</text>
<text x="83.30" y="513.90" font-size="12.5" text-anchor="middle">-</text>
<text x="99.35" y="513.90" font-size="12.5" text-anchor="middle">-</text>
<text x="115.50" y="513.90" font-size="12.5" text-anchor="middle">+</text>
<text x="138.10" y="513.90" font-size="12.5" text-anchor="middle">-</text>
<text x="154.40" y="513.90" font-size="12.5" text-anchor="middle">-</text>
<text x="170.60" y="513.90" font-size="12.5" text-anchor="middle">+</text>
<text x="193.80" y="513.90" font-size="12.5" text-anchor="middle">-</text>
<text x="209.90" y="513.90" font-size="12.5" text-anchor="middle">-</text>
<text x="225.90" y="513.90" font-size="12.5" text-anchor="middle">+</text>
<polyline points="83,387.2 83,383.5 116.5,383.5 116.5,387.2" fill="none" stroke="#111" stroke-width="1.05"/>
<text x="99.75" y="382.30" font-size="11" text-anchor="middle" font-weight="bold">***</text>
<polyline points="137.1,436.5 137.1,432.8 170.3,432.8 170.3,436.5" fill="none" stroke="#111" stroke-width="1.05"/>
<text x="153.70" y="430.80" font-size="11" text-anchor="middle" font-weight="bold">*</text>
<text x="291.20" y="290.50" font-size="16.6" text-anchor="start" font-weight="bold">C</text>
<line x1="359.20" y1="433.00" x2="359.20" y2="426.00" stroke="#222" stroke-width="1"/>
<line x1="357.00" y1="426.00" x2="361.40" y2="426.00" stroke="#222" stroke-width="1"/>
<rect x="352.75" y="433.50" width="12.90" height="27.20" fill="#000" stroke="#000" stroke-width="1"/>
<line x1="375.30" y1="402.10" x2="375.30" y2="391.50" stroke="#222" stroke-width="1"/>
<line x1="373.10" y1="391.50" x2="377.50" y2="391.50" stroke="#222" stroke-width="1"/>
<rect x="368.85" y="402.60" width="12.90" height="58.10" fill="#000" stroke="#000" stroke-width="1"/>
<line x1="391.40" y1="414.70" x2="391.40" y2="390.00" stroke="#222" stroke-width="1"/>
<line x1="389.20" y1="390.00" x2="393.60" y2="390.00" stroke="#222" stroke-width="1"/>
<rect x="384.95" y="415.20" width="12.90" height="45.50" fill="#000" stroke="#000" stroke-width="1"/>
<line x1="414.30" y1="455.40" x2="414.30" y2="450.60" stroke="#222" stroke-width="1"/>
<line x1="412.10" y1="450.60" x2="416.50" y2="450.60" stroke="#222" stroke-width="1"/>
<rect x="407.90" y="456.10" width="12.80" height="4.60" fill="#fff" stroke="#000" stroke-width="1.45"/>
<line x1="430.60" y1="385.20" x2="430.60" y2="369.40" stroke="#222" stroke-width="1"/>
<line x1="428.40" y1="369.40" x2="432.80" y2="369.40" stroke="#222" stroke-width="1"/>
<rect x="424.20" y="385.90" width="12.80" height="74.80" fill="#fff" stroke="#000" stroke-width="1.45"/>
<line x1="446.60" y1="457.40" x2="446.60" y2="455.40" stroke="#222" stroke-width="1"/>
<line x1="444.40" y1="455.40" x2="448.80" y2="455.40" stroke="#222" stroke-width="1"/>
<rect x="440.20" y="458.10" width="12.80" height="2.60" fill="#fff" stroke="#000" stroke-width="1.45"/>
<line x1="469.80" y1="432.80" x2="469.80" y2="428.00" stroke="#222" stroke-width="1"/>
<line x1="467.60" y1="428.00" x2="472.00" y2="428.00" stroke="#222" stroke-width="1"/>
<rect x="463.10" y="433.45" width="13.40" height="27.25" fill="url(#dot)" stroke="#000" stroke-width="1.4"/>
<line x1="485.80" y1="393.80" x2="485.80" y2="381.50" stroke="#222" stroke-width="1"/>
<line x1="483.60" y1="381.50" x2="488.00" y2="381.50" stroke="#222" stroke-width="1"/>
<rect x="479.10" y="394.45" width="13.40" height="66.25" fill="url(#dot)" stroke="#000" stroke-width="1.4"/>
<line x1="501.90" y1="415.20" x2="501.90" y2="397.60" stroke="#222" stroke-width="1"/>
<line x1="499.70" y1="397.60" x2="504.10" y2="397.60" stroke="#222" stroke-width="1"/>
<rect x="495.20" y="415.85" width="13.40" height="44.85" fill="url(#dot)" stroke="#000" stroke-width="1.4"/>
<line x1="348.00" y1="304.00" x2="348.00" y2="461.20" stroke="#222" stroke-width="1"/>
<line x1="347.50" y1="460.70" x2="513.20" y2="460.70" stroke="#222" stroke-width="1"/>
<line x1="344.50" y1="460.70" x2="348.00" y2="460.70" stroke="#222" stroke-width="1"/>
<text x="343.00" y="466.30" font-size="11.5" text-anchor="end">0</text>
<line x1="344.50" y1="429.42" x2="348.00" y2="429.42" stroke="#222" stroke-width="1"/>
<text x="343.00" y="435.02" font-size="11.5" text-anchor="end">10</text>
<line x1="344.50" y1="398.14" x2="348.00" y2="398.14" stroke="#222" stroke-width="1"/>
<text x="343.00" y="403.74" font-size="11.5" text-anchor="end">20</text>
<line x1="344.50" y1="366.86" x2="348.00" y2="366.86" stroke="#222" stroke-width="1"/>
<text x="343.00" y="372.46" font-size="11.5" text-anchor="end">30</text>
<line x1="344.50" y1="335.58" x2="348.00" y2="335.58" stroke="#222" stroke-width="1"/>
<text x="343.00" y="341.18" font-size="11.5" text-anchor="end">40</text>
<line x1="344.50" y1="304.30" x2="348.00" y2="304.30" stroke="#222" stroke-width="1"/>
<text x="343.00" y="309.90" font-size="11.5" text-anchor="end">50</text>
<line x1="359.20" y1="460.70" x2="359.20" y2="464.20" stroke="#222" stroke-width="1"/>
<line x1="375.30" y1="460.70" x2="375.30" y2="464.20" stroke="#222" stroke-width="1"/>
<line x1="391.40" y1="460.70" x2="391.40" y2="464.20" stroke="#222" stroke-width="1"/>
<line x1="414.30" y1="460.70" x2="414.30" y2="464.20" stroke="#222" stroke-width="1"/>
<line x1="430.60" y1="460.70" x2="430.60" y2="464.20" stroke="#222" stroke-width="1"/>
<line x1="446.60" y1="460.70" x2="446.60" y2="464.20" stroke="#222" stroke-width="1"/>
<line x1="469.80" y1="460.70" x2="469.80" y2="464.20" stroke="#222" stroke-width="1"/>
<line x1="485.80" y1="460.70" x2="485.80" y2="464.20" stroke="#222" stroke-width="1"/>
<line x1="501.90" y1="460.70" x2="501.90" y2="464.20" stroke="#222" stroke-width="1"/>
<text transform="translate(324.80,379.9) rotate(-90)" font-size="12.4" text-anchor="middle">% positive of CD3<tspan font-size="8" dy="-5.7">+</tspan><tspan dy="5.7"> T cells</tspan></text>
<rect x="354.10" y="304.30" width="16.50" height="8.70" fill="#000" stroke="#000" stroke-width="1.2"/>
<text x="378.30" y="313.40" font-size="11.6" text-anchor="start">CCR8</text>
<rect x="354.10" y="322.30" width="16.50" height="8.70" fill="#fff" stroke="#000" stroke-width="1.2"/>
<text x="378.30" y="331.40" font-size="11.6" text-anchor="start">CCR9</text>
<rect x="354.10" y="340.30" width="16.50" height="8.70" fill="url(#dot)" stroke="#000" stroke-width="1.2"/>
<text x="378.30" y="349.40" font-size="11.6" text-anchor="start">CLA</text>
<text x="340.60" y="478.40" font-size="11.5" text-anchor="end" font-style="italic" letter-spacing="-0.12">kcm:</text>
<text x="359.80" y="479.30" font-size="12.5" text-anchor="middle">+</text>
<text x="375.90" y="479.30" font-size="12.5" text-anchor="middle">-</text>
<text x="392.00" y="479.30" font-size="12.5" text-anchor="middle">-</text>
<text x="414.90" y="479.30" font-size="12.5" text-anchor="middle">+</text>
<text x="431.20" y="479.30" font-size="12.5" text-anchor="middle">-</text>
<text x="447.20" y="479.30" font-size="12.5" text-anchor="middle">-</text>
<text x="470.40" y="479.30" font-size="12.5" text-anchor="middle">+</text>
<text x="486.40" y="479.30" font-size="12.5" text-anchor="middle">-</text>
<text x="502.50" y="479.30" font-size="12.5" text-anchor="middle">-</text>
<text x="340.60" y="494.20" font-size="11.5" text-anchor="end" font-style="italic" letter-spacing="-0.2">kerat:</text>
<text x="359.80" y="496.10" font-size="12.5" text-anchor="middle">-</text>
<text x="375.90" y="496.10" font-size="12.5" text-anchor="middle">+</text>
<text x="392.00" y="496.10" font-size="12.5" text-anchor="middle">+</text>
<text x="414.90" y="496.10" font-size="12.5" text-anchor="middle">-</text>
<text x="431.20" y="496.10" font-size="12.5" text-anchor="middle">+</text>
<text x="447.20" y="496.10" font-size="12.5" text-anchor="middle">+</text>
<text x="470.40" y="496.10" font-size="12.5" text-anchor="middle">-</text>
<text x="486.40" y="496.10" font-size="12.5" text-anchor="middle">+</text>
<text x="502.50" y="496.10" font-size="12.5" text-anchor="middle">+</text>
<text x="340.60" y="509.80" font-size="11.5" text-anchor="end" font-style="italic" letter-spacing="0">LE540:</text>
<text x="359.80" y="512.40" font-size="12.5" text-anchor="middle">-</text>
<text x="375.90" y="512.40" font-size="12.5" text-anchor="middle">-</text>
<text x="392.00" y="512.40" font-size="12.5" text-anchor="middle">+</text>
<text x="414.90" y="512.40" font-size="12.5" text-anchor="middle">-</text>
<text x="431.20" y="512.40" font-size="12.5" text-anchor="middle">-</text>
<text x="447.20" y="512.40" font-size="12.5" text-anchor="middle">+</text>
<text x="470.40" y="512.40" font-size="12.5" text-anchor="middle">-</text>
<text x="486.40" y="512.40" font-size="12.5" text-anchor="middle">-</text>
<text x="502.50" y="512.40" font-size="12.5" text-anchor="middle">+</text>
<polyline points="411.9,365.3 411.9,361.9 428.6,361.9 428.6,365.3" fill="none" stroke="#111" stroke-width="1.05"/>
<text x="420.25" y="362.00" font-size="11" text-anchor="middle" font-weight="bold">**</text>
<polyline points="429.8,365.3 429.8,361.9 447.3,361.9 447.3,365.3" fill="none" stroke="#111" stroke-width="1.05"/>
<text x="438.55" y="362.00" font-size="11" text-anchor="middle" font-weight="bold">**</text>
</svg>
</body></html>
